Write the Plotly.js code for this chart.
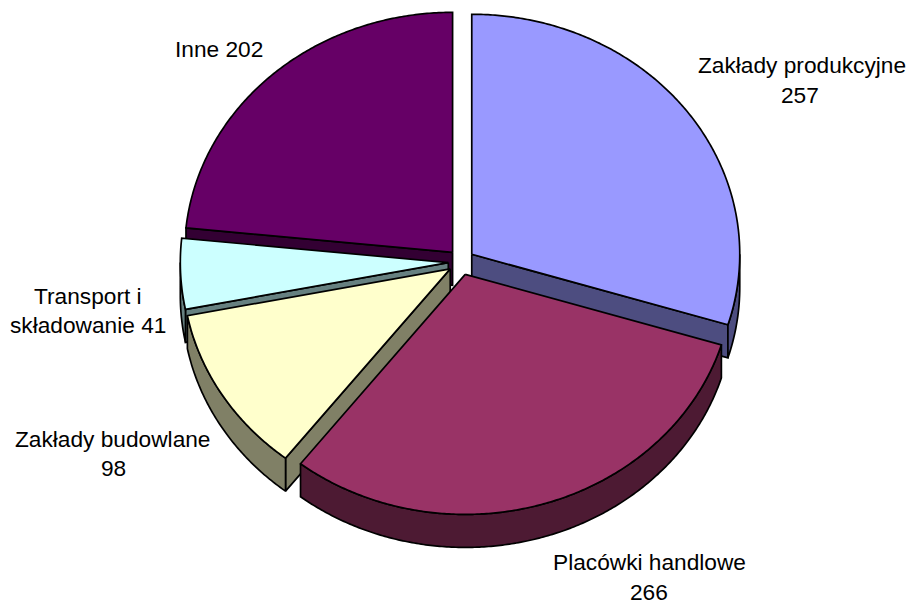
<!DOCTYPE html>
<html>
<head>
<meta charset="utf-8">
<script src="https://cdn.plot.ly/plotly-3.0.1.min.js"></script>
<style>html,body{margin:0;padding:0;background:#fff}#chart{width:911px;height:605px}</style>
</head>
<body>
<div id="chart"></div>
<script>
// Slice data, clockwise from twelve o'clock
const categories = ["Zakłady produkcyjne", "Placówki handlowe", "Zakłady budowlane", "Transport i składowanie", "Inne"];
const values = [257, 266, 98, 41, 202];
const topColors = ["#9999FF", "#993366", "#FFFFCC", "#CCFFFF", "#660066"];
const wallColors = ["#4D4D80", "#4D1A33", "#808066", "#668080", "#330033"];

// Label lines: text, centre x, centre y
const labelLines = [
  ["Zakłady produkcyjne", 802, 65],
  ["257", 800, 95],
  ["Placówki handlowe", 649, 562],
  ["266", 649, 592],
  ["Zakłady budowlane", 113, 439],
  ["98", 113, 468],
  ["Transport i", 88, 296],
  ["składowanie 41", 88, 325],
  ["Inne 202", 219, 49]
];

// Tilted-disc geometry in axis units
const centre = {x: 461.3, y: 262};
const radius = {x: 268, y: 240};
const explode = {x: 13, y: 13};
const depth = 33;

// Back slices are painted first so that nearer ones overlap their walls
const paintOrder = [4, 0, 3, 2, 1];

const total = values.reduce((a, b) => a + b, 0);
const rad = d => d * Math.PI / 180;
let running = 0;
const slices = values.map(v => {
  const start = running / total * 360;
  running += v;
  const end = running / total * 360;
  const mid = rad((start + end) / 2);
  return {
    start, end,
    ax: centre.x + explode.x * Math.sin(mid),
    ay: centre.y - explode.y * Math.cos(mid)
  };
});

function arc(s, from, to, dy) {
  const pts = [];
  const n = Math.max(2, Math.ceil((to - from) * 2));
  for (let i = 0; i <= n; i++) {
    const t = rad(from + (to - from) * i / n);
    pts.push([s.ax + radius.x * Math.sin(t), s.ay - radius.y * Math.cos(t) + dy]);
  }
  return pts;
}

function face(pts, fill) {
  const closed = pts.concat([pts[0]]);
  return {
    type: "scatter", mode: "lines",
    x: closed.map(p => p[0]), y: closed.map(p => p[1]),
    fill: "toself", fillcolor: fill,
    line: {color: "#000", width: 1.7, shape: "linear", simplify: false},
    hoverinfo: "skip", showlegend: false
  };
}

function radialWall(s, angle, fill) {
  const rim = arc(s, angle, angle, 0)[0];
  return face([[s.ax, s.ay], rim, [rim[0], rim[1] + depth], [s.ax, s.ay + depth]], fill);
}

const traces = [];
paintOrder.forEach(i => {
  const s = slices[i];
  // Radial cut faces that look towards the viewer
  if (Math.cos(rad(s.start - 90)) < 0) traces.push(radialWall(s, s.start, wallColors[i]));
  if (Math.cos(rad(s.end + 90)) < 0) traces.push(radialWall(s, s.end, wallColors[i]));
  // Outer rim, only on the front half of the disc
  const a = Math.max(s.start, 90), b = Math.min(s.end, 270);
  if (b > a) traces.push(face(arc(s, a, b, 0).concat(arc(s, a, b, depth).reverse()), wallColors[i]));
  // Top surface
  traces.push(face([[s.ax, s.ay]].concat(arc(s, s.start, s.end, 0)), topColors[i]));
});

const layout = {
  width: 911, height: 605,
  margin: {l: 0, r: 0, t: 0, b: 0},
  paper_bgcolor: "#fff", plot_bgcolor: "#fff",
  xaxis: {range: [0, 911], visible: false, fixedrange: true},
  yaxis: {range: [605, 0], visible: false, fixedrange: true},
  annotations: labelLines.map(l => ({
    text: l[0], x: l[1], y: l[2], xref: "x", yref: "y",
    showarrow: false, xanchor: "center", yanchor: "middle",
    font: {family: "Liberation Sans, Arial, sans-serif", size: 22.7, color: "#000"}
  }))
};

Plotly.newPlot("chart", traces, layout, {staticPlot: true, displayModeBar: false});
</script>
</body>
</html>
